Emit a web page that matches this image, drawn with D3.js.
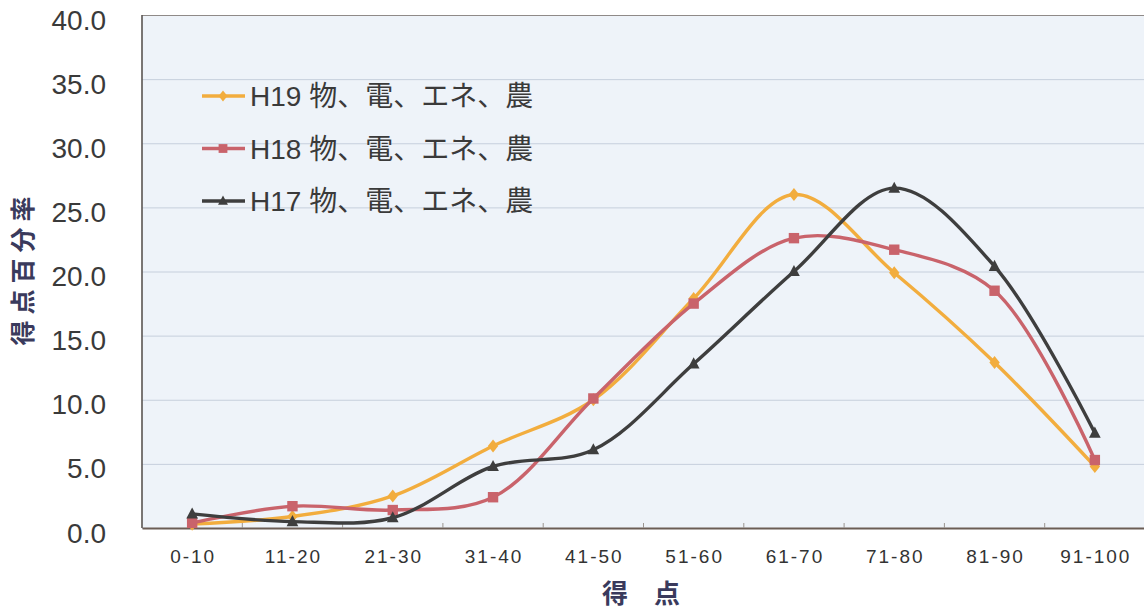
<!DOCTYPE html>
<html><head><meta charset="utf-8">
<script src="https://cdn.jsdelivr.net/npm/d3@7"></script>
<style>
html,body{margin:0;padding:0;background:#fff;}
svg{display:block;}
</style></head>
<body>
<svg id="chart" width="1144" height="614"></svg>
<script>
const categories = ["0-10","11-20","21-30","31-40","41-50","51-60","61-70","71-80","81-90","91-100"];
const h19 = [0.3, 0.9, 2.5, 6.4, 10.0, 17.9, 26.0, 19.9, 12.9, 4.8];
const h18 = [0.4, 1.7, 1.4, 2.4, 10.1, 17.5, 22.6, 21.7, 18.5, 5.3];
const h17 = [1.1, 0.5, 0.8, 4.8, 6.1, 12.8, 20.0, 26.5, 20.4, 7.4];
const seriesNames = ["H19 物、電、エネ、農","H18 物、電、エネ、農","H17 物、電、エネ、農"];
const yTicks = [0,5,10,15,20,25,30,35,40];

(function(){
const series = [
  {name: seriesNames[0], values: h19, color: "#f2ad3e", marker: "diamond"},
  {name: seriesNames[1], values: h18, color: "#c9636b", marker: "square"},
  {name: seriesNames[2], values: h17, color: "#3e3e3e", marker: "triangle"}
];

const svg = d3.select("#chart");
const pL = 142, pT = 15, pR = 1145, pB = 528;

const x = d3.scaleBand().domain(categories).range([pL, pR]).padding(0);
const y = d3.scaleLinear().domain([0, 40]).range([pB, pT]);
const cx = c => x(c) + x.bandwidth() / 2;

svg.append("rect").attr("x", pL).attr("y", pT).attr("width", pR - pL).attr("height", pB - pT)
  .attr("fill", "#eef3f9");

const yAxis = d3.axisLeft(y).tickValues(yTicks).tickSize(-(pR - pL)).tickFormat(d => d.toFixed(1));
const gy = svg.append("g").attr("transform", `translate(${pL},0)`).call(yAxis);
gy.select(".domain").remove();
gy.selectAll(".tick line").attr("stroke", "#c6cfdc").attr("stroke-width", 1);
gy.selectAll(".tick text")
  .attr("x", -36).attr("dy", "0.5em")
  .attr("fill", "#3a3a3a")
  .style("font-family", "'Liberation Sans', Arial, sans-serif")
  .style("font-size", "28px");

svg.append("line").attr("x1", pL).attr("x2", pR).attr("y1", pT + 0.5).attr("y2", pT + 0.5)
  .attr("stroke", "#8f8a88").attr("stroke-width", 1.2);
svg.append("line").attr("x1", pL).attr("x2", pL).attr("y1", pT).attr("y2", pB)
  .attr("stroke", "#5a5552").attr("stroke-width", 1.6);

const xAxis = d3.axisBottom(x).tickSize(0).tickPadding(22);
const gx = svg.append("g").attr("transform", `translate(0,${pB})`).call(xAxis);
gx.select(".domain").attr("stroke", "#6b5d55").attr("stroke-width", 2);
gx.selectAll(".tick text")
  .attr("fill", "#333")
  .attr("dx", "1px")
  .style("font-family", "'Liberation Sans', Arial, sans-serif")
  .style("font-size", "19px")
  .style("letter-spacing", "2px");
svg.append("g").selectAll("line").data(categories.slice(1)).join("line")
  .attr("x1", d => x(d)).attr("x2", d => x(d))
  .attr("y1", pB).attr("y2", pB - 5)
  .attr("stroke", "#9a9490").attr("stroke-width", 1);

const line = d3.line().x((d, i) => cx(categories[i])).y(d => y(d)).curve(d3.curveCatmullRom.alpha(0.5));

function drawMarker(g, type, px, py, color, s) {
  if (type === "diamond") {
    g.append("path").attr("d", `M${px},${py - s}L${px + s * 0.8},${py}L${px},${py + s}L${px - s * 0.8},${py}Z`).attr("fill", color);
  } else if (type === "square") {
    g.append("rect").attr("x", px - s * 0.8).attr("y", py - s * 0.8).attr("width", s * 1.6).attr("height", s * 1.6).attr("fill", color);
  } else {
    g.append("path").attr("d", `M${px},${py - s}L${px + s * 0.9},${py + s * 0.7}L${px - s * 0.9},${py + s * 0.7}Z`).attr("fill", color);
  }
}

[0, 1, 2].forEach(k => {
  const s = series[k];
  const g = svg.append("g");
  g.append("path").attr("d", line(s.values)).attr("fill", "none")
    .attr("stroke", s.color).attr("stroke-width", 3.4).attr("stroke-linejoin", "round");
  s.values.forEach((v, i) => drawMarker(g, s.marker, cx(categories[i]), y(v), s.color, 6.5));
});

const lg = svg.append("g");
series.forEach((s, i) => {
  const ly = 96 + i * 52.5;
  lg.append("line").attr("x1", 202).attr("x2", 245).attr("y1", ly).attr("y2", ly)
    .attr("stroke", s.color).attr("stroke-width", 3.4);
  drawMarker(lg, s.marker, 223, ly, s.color, 5.5);
  lg.append("text").attr("x", 250).attr("y", ly).attr("dy", "0.36em")
    .attr("fill", "#3a3a3a")
    .style("font-family", "'Liberation Sans', 'Noto Sans CJK JP', sans-serif")
    .style("font-size", "28px")
    .text(s.name);
});

svg.append("text")
  .attr("transform", "translate(23,268) rotate(-90)")
  .attr("text-anchor", "middle").attr("dy", "0.36em")
  .attr("fill", "#3a3a5c")
  .style("font-family", "'Noto Sans CJK JP', sans-serif")
  .style("font-weight", "bold").style("font-size", "25px").style("letter-spacing", "6px")
  .text("得点百分率");

svg.append("text")
  .attr("x", 646).attr("y", 594)
  .attr("text-anchor", "middle").attr("dy", "0.36em")
  .attr("fill", "#3a3a5c")
  .style("font-family", "'Noto Sans CJK JP', sans-serif")
  .style("font-weight", "bold").style("font-size", "26px").style("letter-spacing", "10px")
  .text("得 点");
})();
</script>
</body></html>
